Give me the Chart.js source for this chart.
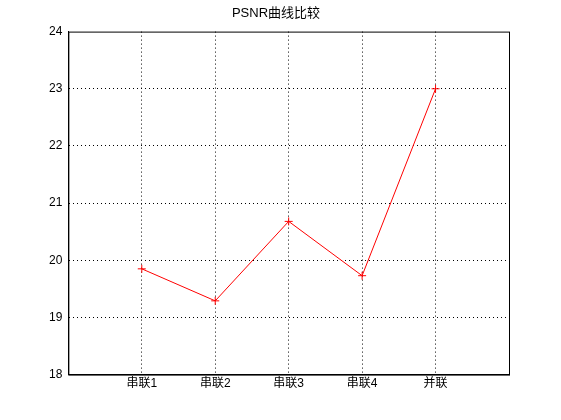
<!DOCTYPE html>
<html>
<head>
<meta charset="utf-8">
<script src="https://cdn.jsdelivr.net/npm/chart.js@4"></script>
<style>
  body { margin: 0; background: #fff; }
  #wrap { width: 561px; height: 420px; }
</style>
</head>
<body>
<div id="wrap"><canvas id="grafico"></canvas></div>
<script>
const categorias = ['串联1', '串联2', '串联3', '串联4', '并联'];
const valores = [19.85, 19.29, 20.68, 19.73, 23.0];
const yTicks = [18, 19, 20, 21, 22, 23, 24];

const puntos = valores.map((v, i) => ({ x: i + 1, y: v }));
const fuente = { family: 'Liberation Sans, Noto Sans CJK SC', size: 12 };

new Chart(document.getElementById('grafico'), {
  type: 'line',
  data: {
    datasets: [{
      data: puntos,
      borderColor: '#ff0000',
      borderWidth: 1,
      pointStyle: 'cross',
      pointRadius: 4,
      pointBorderColor: '#ff0000',
      pointBorderWidth: 1,
      fill: false,
      tension: 0
    }]
  },
  options: {
    responsive: true,
    maintainAspectRatio: false,
    animation: false,
    layout: { padding: { left: 43, right: 52, top: 0, bottom: 27 } },
    plugins: {
      legend: { display: false },
      tooltip: { enabled: false },
      title: {
        display: true,
        text: 'PSNR曲线比较',
        color: '#000',
        font: { family: fuente.family, size: 13, weight: 'normal' },
        padding: { top: 6, bottom: 10 }
      }
    },
    scales: {
      x: {
        type: 'linear',
        min: 0,
        max: 6,
        afterBuildTicks: axis => { axis.ticks = [0, 1, 2, 3, 4, 5, 6].map(v => ({ value: v })); },
        ticks: {
          color: '#000',
          font: fuente,
          maxRotation: 0,
          padding: 2,
          callback: v => categorias[v - 1] || ''
        },
        grid: {
          color: ctx => (ctx.tick && ctx.tick.value > 0 && ctx.tick.value < 6) ? '#000' : 'rgba(0,0,0,0)',
          drawTicks: false
        },
        border: { display: true, color: '#000', dash: [1, 3] }
      },
      y: {
        min: 18,
        max: 24,
        afterBuildTicks: axis => { axis.ticks = yTicks.map(v => ({ value: v })); },
        ticks: { color: '#000', font: fuente, padding: 6 },
        grid: {
          color: ctx => (ctx.tick && ctx.tick.value > 18 && ctx.tick.value < 24) ? '#000' : 'rgba(0,0,0,0)',
          drawTicks: false
        },
        border: { display: true, color: '#000', dash: [1, 3] }
      }
    }
  },
  plugins: [{
    id: 'marco',
    beforeDatasetsDraw(chart) {
      const { ctx, chartArea: a } = chart;
      ctx.save();
      ctx.strokeStyle = '#000';
      ctx.lineWidth = 1;
      ctx.setLineDash([]);
      ctx.strokeRect(a.left + 0.5, a.top + 0.5, a.right - a.left, a.bottom - a.top);
      ctx.restore();
    }
  }]
});
</script>
</body>
</html>
